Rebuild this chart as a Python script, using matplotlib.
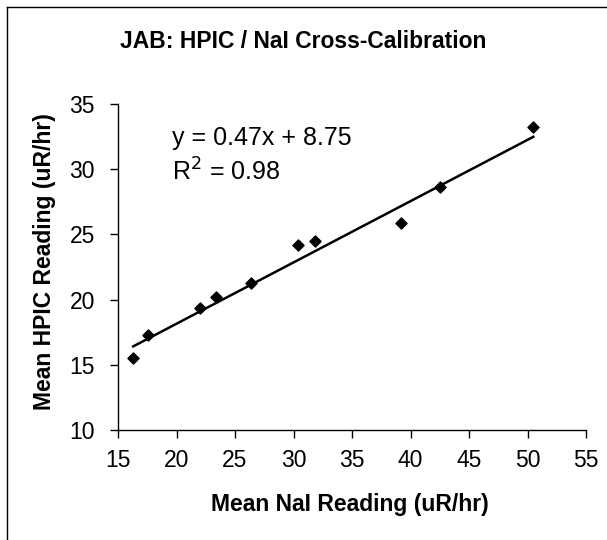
import numpy as np
import matplotlib
matplotlib.use('Agg')
import matplotlib.pyplot as plt
from matplotlib.lines import Line2D

plt.rcParams['font.family'] = ['Liberation Sans', 'DejaVu Sans']

# readings (uR/hr)
naiReading = [16.3, 17.6, 22.0, 23.4, 26.4, 30.4, 31.8, 39.2, 42.5, 50.5]
hpicReading = [15.5, 17.3, 19.35, 20.2, 21.3, 24.2, 24.5, 25.9, 28.6, 33.2]

slope = 0.47
intercept = 8.75
rSquared = 0.98

xTicks = [15, 20, 25, 30, 35, 40, 45, 50, 55]
yTicks = [10, 15, 20, 25, 30, 35]

W, H = 607, 540
fig = plt.figure(figsize=(W / 100, H / 100), dpi=100, facecolor='white')
ax = fig.add_axes([118 / W, 1 - 430 / H, (586 - 118) / W, (430 - 104) / H])

ax.scatter(naiReading, hpicReading, marker='D', s=32, color='black', zorder=3)

xFit = np.array([min(naiReading), max(naiReading)])
ax.plot(xFit, slope * xFit + intercept, color='black', linewidth=1.8, zorder=2)

ax.set_xlim(xTicks[0], xTicks[-1])
ax.set_ylim(yTicks[0], yTicks[-1])
ax.set_xticks(xTicks)
ax.set_yticks(yTicks)
ax.tick_params(direction='out', length=5.5, width=1, labelsize=16.5, color='black')
ax.tick_params(axis='x', pad=8)
ax.tick_params(axis='y', pad=11)

ax.spines['top'].set_visible(False)
ax.spines['right'].set_visible(False)
ax.spines['left'].set_linewidth(1)
ax.spines['bottom'].set_linewidth(1)

fig.text(350 / W, 1 - 505 / H, 'Mean NaI Reading (uR/hr)', ha='center', va='center',
         fontsize=16.5, fontweight='bold')
fig.text(45 / W, 1 - 262 / H, 'Mean HPIC Reading (uR/hr)', ha='center', va='center',
         rotation=90, fontsize=16.5, fontweight='bold')

fig.text(0.5, 1 - 41 / H, 'JAB: HPIC / NaI Cross-Calibration', ha='center', va='center',
         fontsize=16.5, fontweight='bold')

eqText = 'y = {:.2f}x + {:.2f}'.format(slope, intercept)
r2Text = 'R$^2$ = {:.2f}'.format(rSquared)
fig.text(172 / W, 1 - 138 / H, eqText, ha='left', va='center', fontsize=18)
fig.text(172 / W, 1 - 172 / H, r2Text, ha='left', va='center', fontsize=18)

# chart area frame
fig.add_artist(Line2D([7 / W, 7 / W], [0, 1 - 7 / H], color='black', linewidth=1))
fig.add_artist(Line2D([7 / W, 1], [1 - 7 / H, 1 - 7 / H], color='black', linewidth=1))

fig.savefig('out.png', dpi=100, facecolor='white')
